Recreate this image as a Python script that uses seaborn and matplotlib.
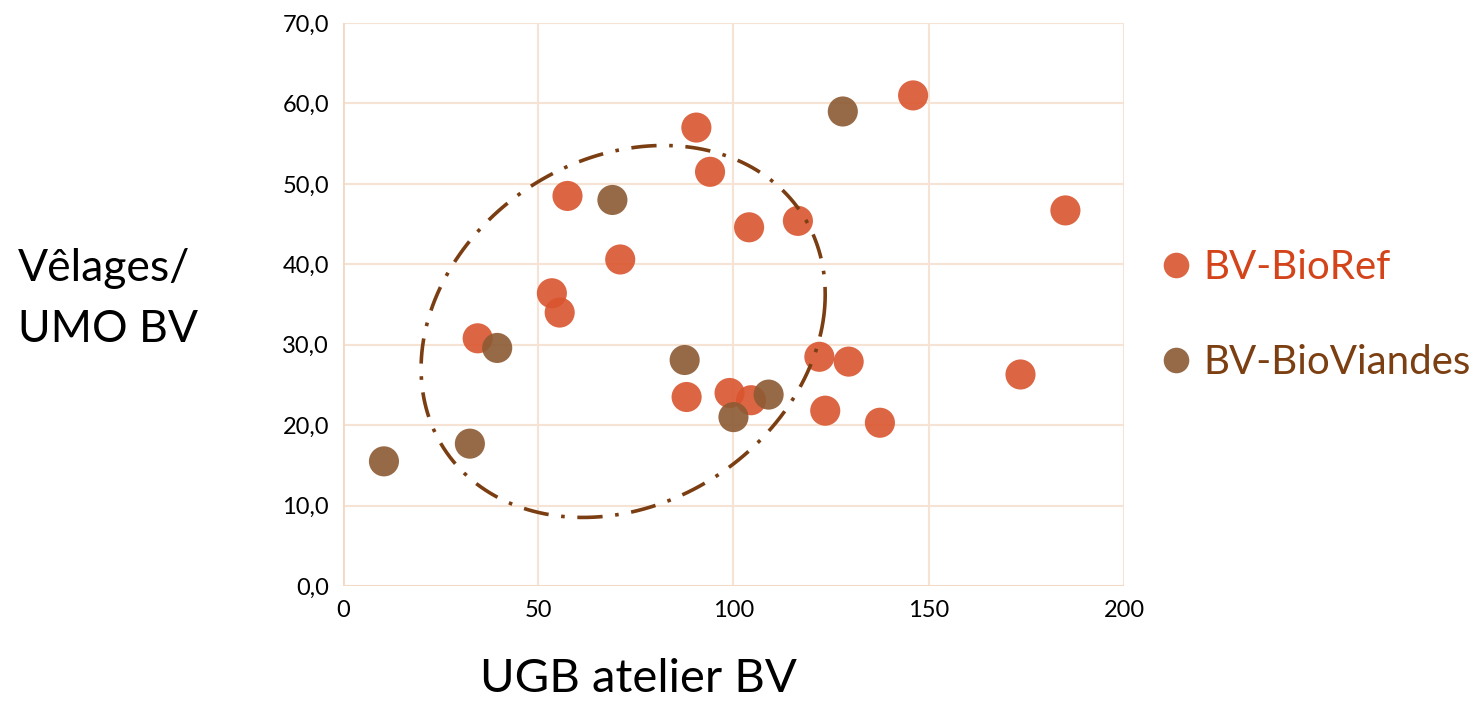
import numpy as np
import pandas as pd
import matplotlib
matplotlib.use("Agg")
import matplotlib.pyplot as plt
from matplotlib.ticker import FuncFormatter
import seaborn as sns

# values
ref_ugb = [146, 90.5, 94, 57.5, 104, 116.5, 185, 71, 53.5, 55.5, 34.5,
           122, 129.5, 173.5, 88, 99, 104.5, 123.5, 137.5]
ref_vel = [61.0, 57.0, 51.5, 48.5, 44.6, 45.4, 46.7, 40.6, 36.4, 34.0, 30.8,
           28.5, 27.9, 26.3, 23.5, 24.0, 23.1, 21.8, 20.3]
via_ugb = [128, 69, 39.5, 87.5, 109, 100, 32.5, 10.5]
via_vel = [59.0, 48.0, 29.6, 28.1, 23.8, 21.0, 17.7, 15.5]
groups = ["BV-BioRef", "BV-BioViandes"]

df = pd.DataFrame({
    "ugb": ref_ugb + via_ugb,
    "vel": ref_vel + via_vel,
    "groupe": [groups[0]] * len(ref_ugb) + [groups[1]] * len(via_ugb),
})

marker_colors = {"BV-BioRef": "#D9552E", "BV-BioViandes": "#8C5A33"}
text_colors = ["#D4441A", "#7B3F12"]
grid_col = "#F7E3D3"

sns.set_style("white")
plt.rcParams["font.family"] = ["Lato", "DejaVu Sans"]
plt.rcParams["text.color"] = "black"

fig = plt.figure(figsize=(14.84, 7.04), dpi=100)
ax = fig.add_axes([0.2311, 0.1676, 0.5263, 0.7997])

sns.scatterplot(data=df, x="ugb", y="vel", hue="groupe", palette=marker_colors,
                s=470, alpha=0.9, edgecolor="none", ax=ax, zorder=3)

# hand-drawn circle around the cluster (dash-dot)
t = np.linspace(0, 2 * np.pi, 400)
cx, cy = 71.75, 31.65
ex = cx + 51.5 * np.cos(t) + 5.0 * np.sin(t)
ey = cy + 23.0 * np.sin(t) + 2.4 * np.cos(t)
ax.plot(ex, ey, color="#7A3E12", lw=2.6, dashes=(7, 3.5, 1, 3.5), zorder=4)

ax.set_xlim(0, 200)
ax.set_ylim(0, 70)
ax.set_xticks([0, 50, 100, 150, 200])
ax.set_yticks(np.arange(0, 71, 10))
ax.yaxis.set_major_formatter(FuncFormatter(lambda v, p: f"{v:.1f}".replace(".", ",")))
ax.tick_params(axis="both", labelsize=17, length=0, pad=10, colors="#000000")
ax.grid(True, color=grid_col, lw=1.5)
ax.set_axisbelow(True)
for side in ["top", "right", "left", "bottom"]:
    ax.spines[side].set_visible(False)
ax.axvline(0, color="#F3D9C4", lw=2, zorder=1)
ax.axhline(0, color="#F3D9C4", lw=2, zorder=1)

ax.set_xlabel("")
ax.set_ylabel("")
fig.text(0.43, 0.006, "UGB atelier BV", fontsize=34, ha="center", va="bottom",
         color="black")
fig.text(0.012, 0.575, "Vêlages/\nUMO BV", fontsize=32, ha="left", va="center",
         linespacing=1.6, color="black")

leg = ax.legend(loc="center left", bbox_to_anchor=(1.041, 0.481), frameon=False,
                fontsize=29, labelspacing=1.45, handletextpad=0.18, handlelength=1.0,
                markerscale=0.85, borderaxespad=0, borderpad=0)
for txt, c in zip(leg.get_texts(), text_colors):
    txt.set_color(c)

fig.savefig("out.png", dpi=100)
